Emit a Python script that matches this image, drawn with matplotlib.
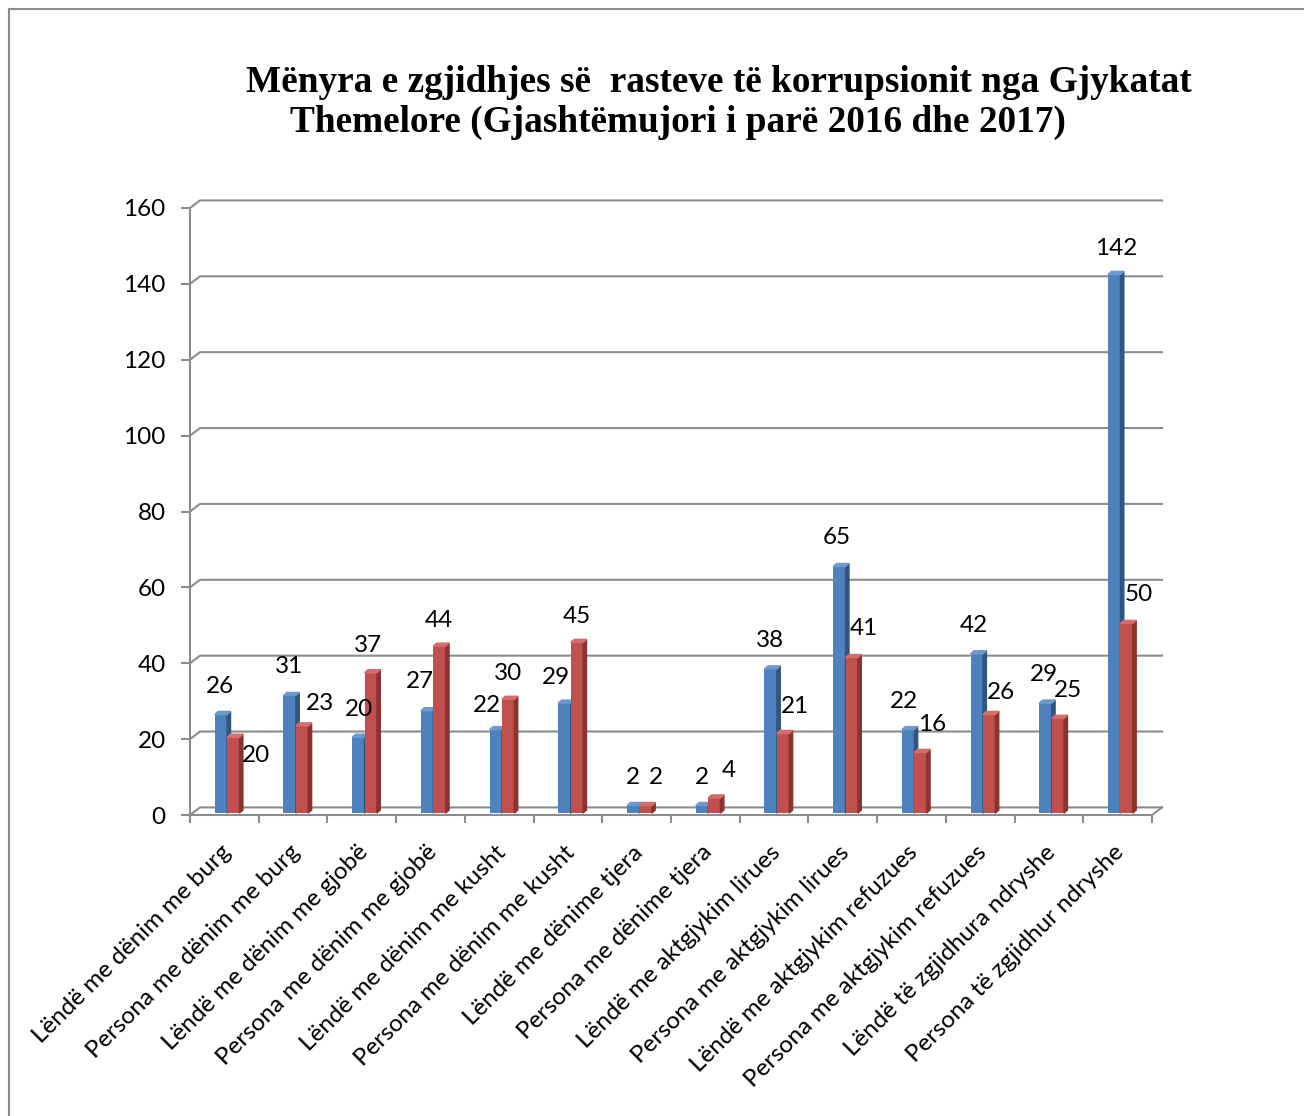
import numpy as np
import matplotlib.pyplot as plt
from matplotlib.patches import Polygon
from matplotlib.lines import Line2D

categories = ['Lëndë me dënim me burg', 'Persona me dënim me burg',
              'Lëndë me dënim me gjobë', 'Persona me dënim me gjobë',
              'Lëndë me dënim me kusht', 'Persona me dënim me kusht',
              'Lëndë me dënime tjera', 'Persona me dënime tjera',
              'Lëndë me aktgjykim lirues', 'Persona me aktgjykim lirues',
              'Lëndë me aktgjykim refuzues', 'Persona me aktgjykim refuzues',
              'Lëndë të zgjidhura ndryshe', 'Persona të zgjidhur ndryshe']
values2016 = [26, 31, 20, 27, 22, 29, 2, 2, 38, 65, 22, 42, 29, 142]
values2017 = [20, 23, 37, 44, 30, 45, 2, 4, 21, 41, 16, 26, 25, 50]
yticks = [0, 20, 40, 60, 80, 100, 120, 140, 160]

# label offsets (pixels) as placed in the original
blueDx = [-1, -1, 1, -7, -9, -9, 0, 0, -1, -3, -4, -3, -2, 2]
blueDy = [28, 29, 28, 29, 24, 26, 28, 28, 28, 29, 28, 28, 29, 26]
redDx = [23, 18, -3, -1, 0, 0, 10, 14, 12, 12, 12, 12, 10, 12]
redDy = [-18, 22, 27, 26, 26, 26, 28, 27, 27, 29, 28, 22, 28, 29]

W, H = 1304, 1116
gridColor = '#8c8c8c'
blue = ('#4f81bd', '#2f5583', '#6f98cc')
red = ('#c0504d', '#8a3330', '#d06f6c')
fs = 17.5

fig = plt.figure(figsize=(W/100, H/100), dpi=100)
ax = fig.add_axes([190/W, 301/H, 962/W, 607/H])
ax.set_xlim(0, len(categories))
ax.set_ylim(0, 160)

# depth of the pseudo-3D back wall (data units)
depthX = 10/68.7
depthY = 2.0

for v in yticks:
    ax.add_line(Line2D([0, depthX, len(categories)+depthX], [v, v+depthY, v+depthY],
                       color=gridColor, lw=1.5, zorder=1, clip_on=False))
ax.add_line(Line2D([len(categories), len(categories)+depthX], [0, depthY],
                   color=gridColor, lw=1.5, zorder=1, clip_on=False))

for s in ['top', 'right']:
    ax.spines[s].set_visible(False)
for s in ['left', 'bottom']:
    ax.spines[s].set_color(gridColor)
    ax.spines[s].set_linewidth(1.5)

ax.set_yticks(yticks)
ax.set_yticklabels([str(v) for v in yticks], fontsize=fs, family='Lato')
ax.tick_params(axis='y', length=6.5, width=1.5, color=gridColor, pad=11)
ax.set_xticks(np.arange(len(categories)+1))
ax.set_xticklabels([])
ax.tick_params(axis='x', length=5.8, width=1.5, color=gridColor)

base = 0.5
barW = 0.18
sideX = 0.05
sideY = 0.8


def bar3d(x0, h, colors, z):
    front, side, top = colors
    ax.bar(x0, h, width=barW, bottom=base, align='edge', color=front, zorder=z, clip_on=False)
    x1 = x0 + barW
    ax.add_patch(Polygon([(x1, base), (x1+sideX, base+sideY), (x1+sideX, base+h+sideY), (x1, base+h)],
                         closed=True, color=side, zorder=z, clip_on=False))
    ax.add_patch(Polygon([(x0, base+h), (x1, base+h), (x1+sideX, base+h+sideY), (x0+sideX, base+h+sideY)],
                         closed=True, color=top, zorder=z, clip_on=False))


for i in range(len(categories)):
    mid = i + 0.54
    bar3d(mid - barW, values2016[i], blue, 3)
    bar3d(mid, values2017[i], red, 4)
    ax.annotate(str(values2016[i]), (mid - barW/2, base + values2016[i]),
                xytext=(blueDx[i], blueDy[i]), textcoords='offset pixels',
                ha='center', va='center', fontsize=fs, family='Lato', zorder=6)
    ax.annotate(str(values2017[i]), (mid + barW/2, base + values2017[i]),
                xytext=(redDx[i], redDy[i]), textcoords='offset pixels',
                ha='center', va='center', fontsize=fs, family='Lato', zorder=6)
    ax.annotate(categories[i], (i + 0.5, 0), xytext=(3, -34), textcoords='offset pixels',
                rotation=45, ha='right', va='center', rotation_mode='anchor',
                fontsize=fs, family='Lato', annotation_clip=False)

fig.text(246/W, 1 - 92/H, 'Mënyra e zgjidhjes së  rasteve të korrupsionit nga Gjykatat',
         family='Liberation Serif', weight='bold', fontsize=26.8, ha='left', va='baseline')
fig.text(290/W, 1 - 132/H, 'Themelore (Gjashtëmujori i parë 2016 dhe 2017)',
         family='Liberation Serif', weight='bold', fontsize=26.8, ha='left', va='baseline')

# outer frame (right and bottom edges fall outside the picture)
fig.add_artist(Line2D([9/W, 9/W], [0, 1 - 9/H], color=gridColor, lw=1.5))
fig.add_artist(Line2D([9/W, 1], [1 - 9/H, 1 - 9/H], color=gridColor, lw=1.5))

fig.savefig('out.png', dpi=100)
